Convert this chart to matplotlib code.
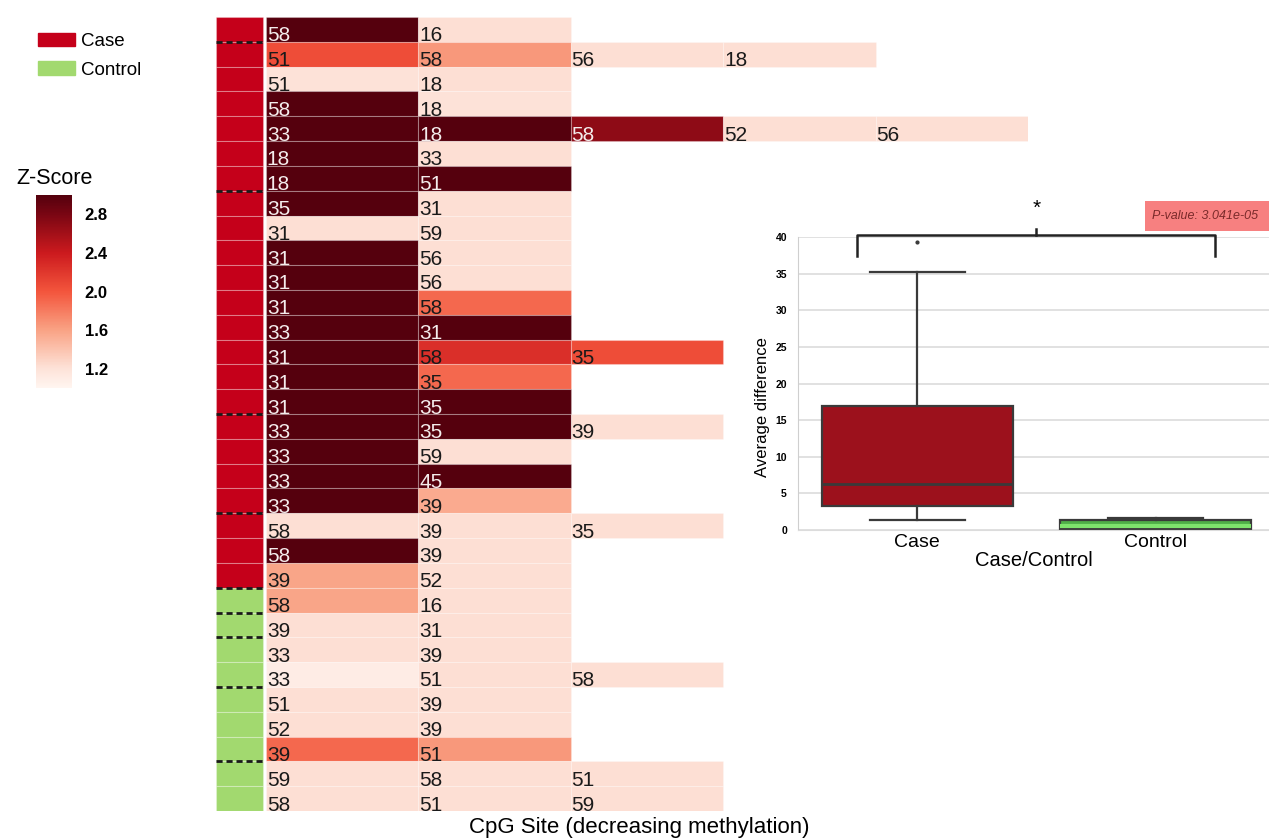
import matplotlib.pyplot as plt
from matplotlib.colors import LinearSegmentedColormap, Normalize
from matplotlib.cm import ScalarMappable
from matplotlib.patches import Patch, Rectangle

plt.rcParams['font.family'] = ['Liberation Sans', 'DejaVu Sans']

# one entry per sample row, top to bottom
groups = ['Case'] * 23 + ['Control'] * 9
cpg_sites = [
    ['58', '16'],
    ['51', '58', '56', '18'],
    ['51', '18'],
    ['58', '18'],
    ['33', '18', '58', '52', '56'],
    ['18', '33'],
    ['18', '51'],
    ['35', '31'],
    ['31', '59'],
    ['31', '56'],
    ['31', '56'],
    ['31', '58'],
    ['33', '31'],
    ['31', '58', '35'],
    ['31', '35'],
    ['31', '35'],
    ['33', '35', '39'],
    ['33', '59'],
    ['33', '45'],
    ['33', '39'],
    ['58', '39', '35'],
    ['58', '39'],
    ['39', '52'],
    ['58', '16'],
    ['39', '31'],
    ['33', '39'],
    ['33', '51', '58'],
    ['51', '39'],
    ['52', '39'],
    ['39', '51'],
    ['59', '58', '51'],
    ['58', '51', '59'],
]
z_scores = [
    [3.0, 1.22],
    [2.05, 1.65, 1.22, 1.22],
    [1.2, 1.22],
    [3.0, 1.2],
    [3.0, 3.0, 2.7, 1.22, 1.22],
    [3.0, 1.22],
    [3.0, 3.0],
    [3.0, 1.22],
    [1.22, 1.22],
    [3.0, 1.22],
    [3.0, 1.22],
    [3.0, 1.9],
    [3.0, 3.0],
    [3.0, 2.25, 2.05],
    [3.0, 1.9],
    [3.0, 3.0],
    [3.0, 3.0, 1.22],
    [3.0, 1.22],
    [3.0, 3.0],
    [3.0, 1.55],
    [1.22, 1.22, 1.22],
    [3.0, 1.22],
    [1.58, 1.22],
    [1.58, 1.22],
    [1.22, 1.22],
    [1.22, 1.22],
    [1.1, 1.22, 1.22],
    [1.22, 1.22],
    [1.22, 1.22],
    [1.9, 1.65],
    [1.22, 1.22, 1.22],
    [1.22, 1.22, 1.22],
]
# dashed separators drawn after these rows
group_breaks = [1, 7, 16, 20, 23, 24, 25, 27, 30]
group_colors = {'Case': '#c5001a', 'Control': '#a2d96f'}
zscore_ticks = [1.2, 1.6, 2.0, 2.4, 2.8]

box_groups = ['Case', 'Control']
box_stats = [
    dict(whislo=1.4, q1=3.3, med=6.3, q3=17.0, whishi=35.2, fliers=[39.4]),
    dict(whislo=0.1, q1=0.15, med=0.55, q3=1.3, whishi=1.65, fliers=[]),
]
box_colors = ['#9c111c', '#4fae47']
median_colors = ['#3a3a3a', '#7ee36c']
p_value = 3.041e-05

W, H = 1269, 839


def fig_rect(x0, y0, x1, y1):
    return [x0 / W, 1 - y1 / H, (x1 - x0) / W, (y1 - y0) / H]


cmap = LinearSegmentedColormap.from_list(
    'zscore', [(0.0, '#fff5f0'), (0.1, '#fde2d8'), (0.3, '#f9a284'), (0.5, '#f3553c'),
               (0.7, '#cc1a1e'), (0.9, '#7a0613'), (1.0, '#55000d')])
norm = Normalize(1.0, 3.0)

fig = plt.figure(figsize=(W / 100, H / 100), dpi=100)

# heatmap
ax = fig.add_axes(fig_rect(216, 17, 1028, 811))
bar_left, bar_w = -0.328, 0.308
edge = (1, 1, 1, 0.25)
for i, (sites, zs) in enumerate(zip(cpg_sites, z_scores)):
    ax.barh(i + 0.5, bar_w, left=bar_left, height=1, color=group_colors[groups[i]],
            edgecolor=edge, linewidth=0.8)
    for j, (site, z) in enumerate(zip(sites, zs)):
        ax.barh(i + 0.5, 1, left=j, height=1, color=cmap(norm(z)), edgecolor=edge, linewidth=0.8)
        ax.text(j + 0.005, i + 0.98, site, ha='left', va='baseline', fontsize=15,
                color='#f4ecec' if z > 2.5 else '#1a1a1a')
for b in group_breaks:
    ax.plot([bar_left, 0.0], [b, b], color='#1a1a1a', lw=2, ls=(0, (2.2, 1.4)), clip_on=False)
ax.set_xlim(bar_left, 5)
ax.set_ylim(len(cpg_sites), 0)
ax.axis('off')
fig.text(639 / W, 1 - 828 / H, 'CpG Site (decreasing methylation)', ha='center', va='center', fontsize=16)

# group legend
fig.legend(handles=[Patch(color=group_colors[g], label=g) for g in ['Case', 'Control']],
           loc='upper left', bbox_to_anchor=(30 / W, 1 - 25 / H), frameon=False, fontsize=13.5,
           handlelength=2.0, handleheight=0.75, handletextpad=0.3, labelspacing=0.6, borderaxespad=0)

# colorbar
cax = fig.add_axes(fig_rect(36, 195, 72, 388))
cb = fig.colorbar(ScalarMappable(norm=norm, cmap=cmap), cax=cax, ticks=zscore_ticks)
cb.outline.set_visible(False)
cb.ax.tick_params(length=0, labelsize=12, pad=9)
for t in cb.ax.get_yticklabels():
    t.set_fontweight('bold')
fig.text(16 / W, 1 - 178 / H, 'Z-Score', ha='left', va='center', fontsize=15.5)

# boxplot inset
bax = fig.add_axes(fig_rect(798, 237.3, 1269, 530))
bp = bax.bxp(box_stats, positions=[0, 1], widths=0.8, patch_artist=True,
             boxprops=dict(edgecolor='#3a3a3a', linewidth=1.6),
             whiskerprops=dict(color='#3a3a3a', linewidth=1.6),
             capprops=dict(color='#3a3a3a', linewidth=1.6),
             medianprops=dict(linewidth=2),
             flierprops=dict(marker='o', markersize=2, markerfacecolor='#3a3a3a', markeredgecolor='#3a3a3a'))
for patch, med, fc, mc in zip(bp['boxes'], bp['medians'], box_colors, median_colors):
    patch.set_facecolor(fc)
    med.set_color(mc)
bp['medians'][1].set_linewidth(3)
bax.set_xlim(-0.5, 1.475)
bax.set_ylim(0, 40)
bax.set_yticks(range(0, 41, 5))
bax.set_xticks([0, 1])
bax.set_xticklabels(box_groups, fontsize=14)
bax.yaxis.grid(True, color='#dcdcdc', lw=1.2)
bax.set_axisbelow(True)
for s in ['top', 'right']:
    bax.spines[s].set_visible(False)
bax.spines['left'].set_color('#cfcfcf')
bax.spines['bottom'].set_color('#dcdcdc')
bax.tick_params(axis='both', length=0)
bax.tick_params(axis='y', labelsize=7.5, pad=8)
for t in bax.get_yticklabels():
    t.set_fontweight('bold')
bax.tick_params(axis='x', pad=3)
bax.set_ylabel('Average difference', fontsize=12)
bax.yaxis.set_label_coords(-0.06, 0.42)
bax.set_xlabel('Case/Control', fontsize=14.5, labelpad=0)

# significance bracket
bax.plot([-0.254, -0.254, 1.25, 1.25], [37.4, 40.3, 40.3, 37.4], color='#222222', lw=1.8, clip_on=False)
bax.plot([0.5, 0.5], [40.3, 41.1], color='#222222', lw=1.8, clip_on=False)
bax.text(0.5, 44.0, '*', ha='center', va='center', fontsize=15, clip_on=False)
fig.add_artist(Rectangle((1145 / W, 1 - 231 / H), (W - 1145) / W, 30 / H,
                         transform=fig.transFigure, facecolor='#f78080', edgecolor='none'))
fig.text(1152 / W, 1 - 216 / H, f'P-value: {p_value:.3e}', ha='left', va='center',
         fontsize=9, style='italic', color='#7a2a2a')

fig.savefig('out.png', dpi=100)
